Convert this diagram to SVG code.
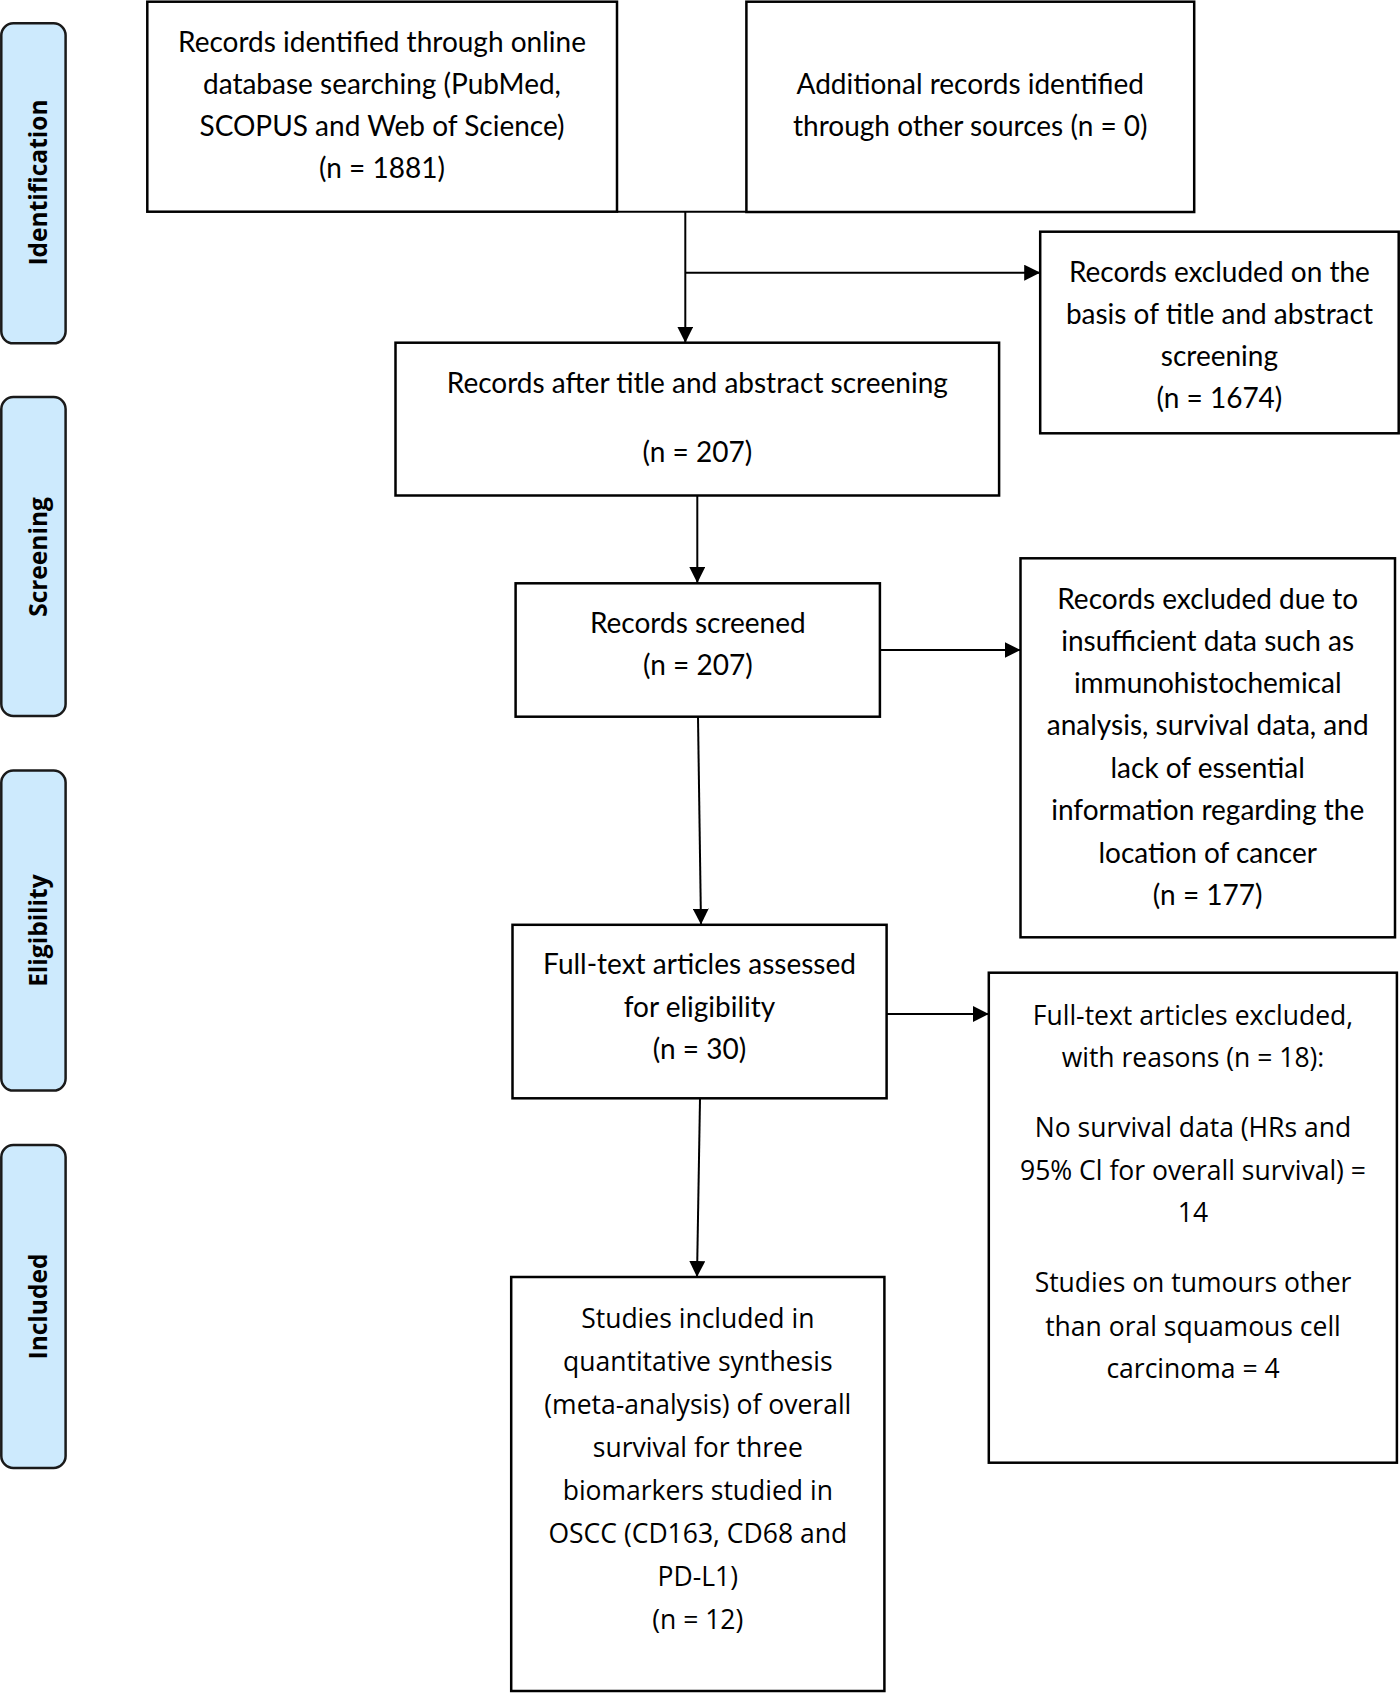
<svg xmlns="http://www.w3.org/2000/svg" width="1400" height="1693" viewBox="0 0 1400 1693">
<style>
.box{fill:#fff;stroke:#000;stroke-width:2.5}
.lane{fill:#cdeafd;stroke:#1a1a1a;stroke-width:2.5}
.t{font-family:Lato,"Liberation Sans",sans-serif;font-size:28px;fill:#000;text-anchor:middle}
.s{font-family:"Open Sans","DejaVu Sans",sans-serif;font-size:26.5px;fill:#000;text-anchor:middle}
.lt{font-family:"Open Sans","DejaVu Sans",sans-serif;font-size:24.5px;font-weight:bold;fill:#000;text-anchor:middle}
.c{stroke:#000;stroke-width:2;fill:none}
.a{marker-end:url(#ah)}
</style>
<defs>
<marker id="ah" markerUnits="userSpaceOnUse" markerWidth="16" markerHeight="16" refX="16" refY="8" orient="auto" viewBox="0 0 16 16">
<path d="M0,0 L16,8 L0,16 z" fill="#000"/>
</marker>
</defs>
<g id="lane-identification"><rect class="lane" x="1.3" y="23.3" width="64.3" height="320" rx="12"/><text class="lt" transform="translate(47,182.5) rotate(-90)">Identification</text></g>
<g id="lane-screening"><rect class="lane" x="1.3" y="397" width="64.3" height="319" rx="12"/><text class="lt" transform="translate(47,557) rotate(-90)">Screening</text></g>
<g id="lane-eligibility"><rect class="lane" x="1.3" y="770.6" width="64.3" height="320" rx="12"/><text class="lt" transform="translate(47,930.6) rotate(-90)">Eligibility</text></g>
<g id="lane-included"><rect class="lane" x="1.3" y="1145" width="64.3" height="323" rx="12"/><text class="lt" transform="translate(47,1306.5) rotate(-90)">Included</text></g>
<g id="connectors">
<line class="c" x1="617" y1="211.7" x2="746.4" y2="211.7"/>
<line class="c a" x1="685.3" y1="211.7" x2="685.3" y2="342.7"/>
<line class="c a" x1="685.3" y1="272.7" x2="1040.2" y2="272.7"/>
<line class="c a" x1="697.3" y1="495.5" x2="697.3" y2="583"/>
<line class="c a" x1="880" y1="650" x2="1020.5" y2="650"/>
<line class="c a" x1="698" y1="717" x2="701" y2="924.6"/>
<line class="c a" x1="886.6" y1="1014" x2="988.8" y2="1014"/>
<line class="c a" x1="700" y1="1099" x2="697" y2="1277"/>
</g>
<g id="box-database"><rect class="box" x="147.3" y="1.7" width="469.7" height="210"/>
<text class="t" x="382" y="51.5">Records identified through online</text>
<text class="t" x="382" y="93.5">database searching (PubMed,</text>
<text class="t" x="382" y="135.5">SCOPUS and Web of Science)</text>
<text class="t" x="382" y="178">(n = 1881)</text></g>
<g id="box-additional"><rect class="box" x="746.4" y="1.7" width="447.8" height="210.3"/>
<text class="t" x="970.3" y="93.5">Additional records identified</text>
<text class="t" x="970.3" y="135.5">through other sources (n = 0)</text></g>
<g id="box-excluded-title"><rect class="box" x="1040.2" y="231.7" width="358.5" height="201.6"/>
<text class="t" x="1219.4" y="281.5">Records excluded on the</text>
<text class="t" x="1219.4" y="323.5">basis of title and abstract</text>
<text class="t" x="1219.4" y="366">screening</text>
<text class="t" x="1219.4" y="407.5">(n = 1674)</text></g>
<g id="box-after-screening"><rect class="box" x="395.5" y="342.7" width="603.6" height="152.8"/>
<text class="t" x="697.3" y="393">Records after title and abstract screening</text>
<text class="t" x="697.3" y="462">(n = 207)</text></g>
<g id="box-screened"><rect class="box" x="515.6" y="583.3" width="364.3" height="133.4"/>
<text class="t" x="697.8" y="633">Records screened</text>
<text class="t" x="697.8" y="674.5">(n = 207)</text></g>
<g id="box-excluded-data"><rect class="box" x="1020.5" y="558.3" width="374.5" height="379"/>
<text class="t" x="1207.7" y="608.5">Records excluded due to</text>
<text class="t" x="1207.7" y="650.5">insufficient data such as</text>
<text class="t" x="1207.7" y="693">immunohistochemical</text>
<text class="t" x="1207.7" y="735">analysis, survival data, and</text>
<text class="t" x="1207.7" y="777.5">lack of essential</text>
<text class="t" x="1207.7" y="820">information regarding the</text>
<text class="t" x="1207.7" y="862.5">location of cancer</text>
<text class="t" x="1207.7" y="905">(n = 177)</text></g>
<g id="box-fulltext"><rect class="box" x="512.5" y="924.8" width="374.1" height="173.5"/>
<text class="t" x="699.5" y="974">Full-text articles assessed</text>
<text class="t" x="699.5" y="1017">for eligibility</text>
<text class="t" x="699.5" y="1059">(n = 30)</text></g>
<g id="box-fulltext-excluded"><rect class="box" x="988.8" y="972.7" width="408.1" height="490"/>
<text class="s" x="1193" y="1025">Full-text articles excluded,</text>
<text class="s" x="1193" y="1067">with reasons (n = 18):</text>
<text class="s" x="1193" y="1137">No survival data (HRs and</text>
<text class="s" x="1193" y="1180">95% Cl for overall survival) =</text>
<text class="s" x="1193" y="1222">14</text>
<text class="s" x="1193" y="1292">Studies on tumours other</text>
<text class="s" x="1193" y="1336">than oral squamous cell</text>
<text class="s" x="1193" y="1378">carcinoma = 4</text></g>
<g id="box-included"><rect class="box" x="511.2" y="1277" width="373.2" height="414"/>
<text class="s" x="697.8" y="1328">Studies included in</text>
<text class="s" x="697.8" y="1371">quantitative synthesis</text>
<text class="s" x="697.8" y="1414">(meta-analysis) of overall</text>
<text class="s" x="697.8" y="1457">survival for three</text>
<text class="s" x="697.8" y="1500">biomarkers studied in</text>
<text class="s" x="697.8" y="1543">OSCC (CD163, CD68 and</text>
<text class="s" x="697.8" y="1586">PD-L1)</text>
<text class="s" x="697.8" y="1629">(n = 12)</text></g>
</svg>
